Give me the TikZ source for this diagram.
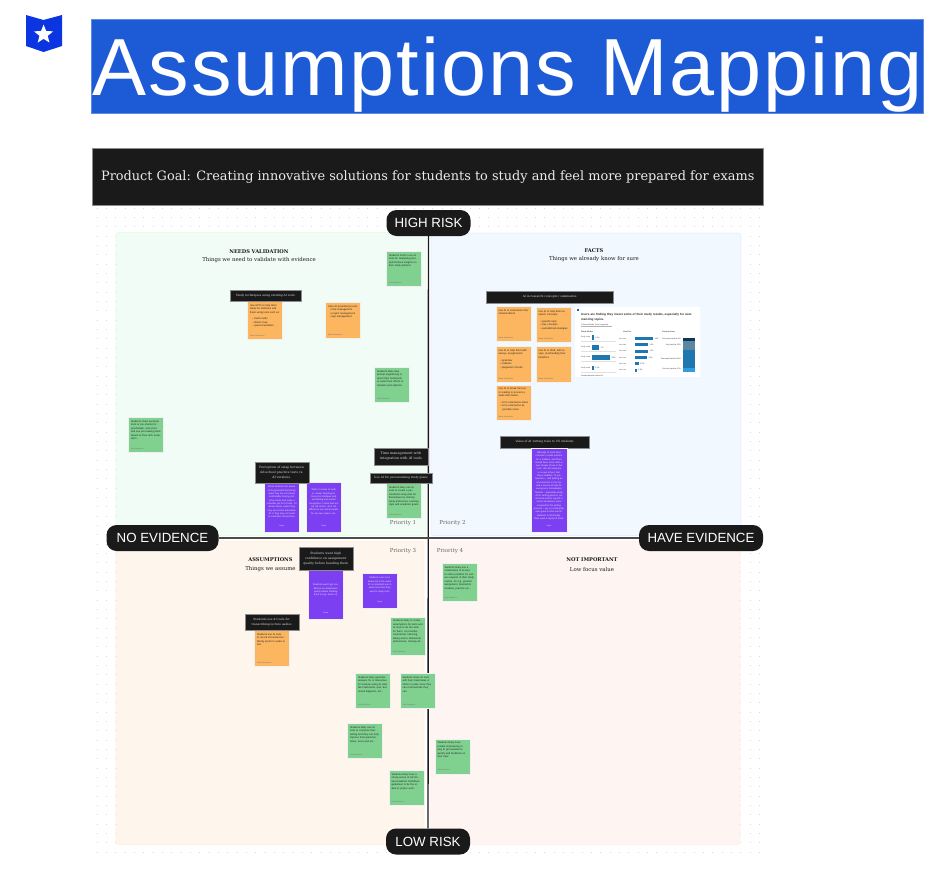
\documentclass[tikz,border=0pt]{standalone}
\usepackage{fontspec}
\setmainfont{Liberation Sans}
\newfontfamily\seriffont{DejaVu Serif}
\newfontfamily\titlefont[LetterSpace=2.4]{Liberation Sans}
\usetikzlibrary{shapes.geometric}
\definecolor{inkblack}{HTML}{1A1A1A}
\definecolor{titleblue}{HTML}{1D5AD6}
\definecolor{iconblue}{HTML}{0A35E0}
\definecolor{notegreen}{HTML}{80D190}
\definecolor{noteorange}{HTML}{FCB660}
\definecolor{notepurple}{HTML}{7C3FF2}
\definecolor{dotgray}{HTML}{DADADA}
\definecolor{chartblue}{HTML}{1F77B0}
\definecolor{chartdark}{HTML}{0B3A53}
\definecolor{chartmid}{HTML}{5B87A5}
\definecolor{chartlight}{HTML}{2F9EDE}
\tikzset{
  quad/.style={rounded corners=2pt,line width=.6pt},
  pill/.style={fill=inkblack,text=white,rounded corners=10pt,inner sep=0pt,font=\fontsize{13.3}{15}\selectfont},
  axisline/.style={draw=inkblack,line width=1.4pt},
  heading/.style={font=\seriffont\bfseries\fontsize{5.1}{6}\selectfont,text=inkblack,inner sep=0pt},
  subheading/.style={font=\seriffont\fontsize{5.4}{6}\selectfont,text=inkblack,inner sep=0pt},
  priority/.style={font=\seriffont\fontsize{5.5}{6}\selectfont,text=black!60,inner sep=0pt},
  notebox/.style={anchor=north west,inner sep=0pt,draw=black!6,line width=.4pt},
  greennote/.style={notebox,fill=notegreen},
  orangenote/.style={notebox,fill=noteorange},
  purplenote/.style={notebox,fill=notepurple},
  sticktext/.style={font=\fontsize{2.55}{3.5}\selectfont,inner sep=0pt,anchor=north west,text width=30pt,align=left,text=black!85},
  greentext/.style={sticktext},
  orangetext/.style={sticktext},
  purpletext/.style={sticktext,text=white!92!black,align=center,font=\fontsize{2.35}{3.3}\selectfont},
  stickfoot/.style={font=\fontsize{1.9}{2.4}\selectfont,inner sep=0pt,anchor=south west,text=black!55},
  darklabel/.style={anchor=north west,fill=inkblack,draw=black!45,line width=.3pt,inner sep=0pt,text=white!88!black,align=center},
  charttext/.style={font=\fontsize{1.9}{2.3}\selectfont,inner sep=0pt,text=black!75},
}
\newcommand{\stick}[8]{%
  \node[#2note,minimum width=#5pt,minimum height=#6pt] (#1) at (#3,#4) {};
  \node[#2text] (#1-t) at ([xshift=2.8pt,yshift=-3.4pt]#1.north west) {#7};
  \node[stickfoot] (#1-f) at ([xshift=2.8pt,yshift=2.6pt]#1.south west) {#8};
}
\newcommand{\pstick}[8]{%
  \node[purplenote,minimum width=#5pt,minimum height=#6pt] (#1) at (#3,#4) {};
  \node[purpletext,anchor=north] (#1-t) at ([yshift=-#2pt]#1.north) {#7};
  \node[stickfoot,anchor=south,text=white!88!black] (#1-f) at ([yshift=5pt]#1.south) {#8};
}
\newcommand{\dlabel}[7]{%
  \node[darklabel,minimum width=#4pt,minimum height=#5pt,font=\seriffont\fontsize{#6}{5.1}\selectfont] (#1) at (#2,#3) {#7};
}
\begin{document}
\begin{tikzpicture}[x=1pt,y=-1pt]
\useasboundingbox (0,0) rectangle (938,870);
% icon
\fill[iconblue] (26,15) -- (43.5,20) -- (62,15) -- (62,46) -- (43.5,52) -- (26,46) -- cycle;
\node[star,star points=5,star point ratio=2.3,fill=white,inner sep=0pt,minimum size=20pt] (iconstar) at (43.6,34.5) {};
% title
\node[anchor=north west,fill=titleblue,draw=titleblue!70,line width=.5pt,minimum width=832pt,minimum height=94pt,inner sep=0pt] (titlebar) at (91,19) {};
\node[anchor=base west,inner sep=0pt,text=white,font=\titlefont\fontsize{81}{81}\selectfont] (titletext) at (92.5,95.5) {Assumptions Mapping};
% goal
\node[anchor=north west,fill=inkblack,draw=black!45,line width=.5pt,minimum width=671pt,minimum height=57pt,inner sep=0pt,text=white!92!black,font=\seriffont\fontsize{12.88}{15}\selectfont] (goal) at (92,148) {Product Goal: Creating innovative solutions for students to study and feel more prepared for exams};
% dot grid
\foreach \i in {0,...,69}{
  \draw[dotgray,line width=.8pt,dash pattern=on .8pt off 8.53pt] (96.6,{208+\i*9.333}) -- (764,{208+\i*9.333});
}
% quadrants
\fill[quad,draw=green!10!white,fill={rgb,255:red,242;green,252;blue,246}] (116,232.5) rectangle (426,535.5);
\fill[quad,draw=blue!8!white,fill={rgb,255:red,242;green,248;blue,255}] (431,233) rectangle (741,535.5);
\fill[quad,draw=orange!12!white,fill={rgb,255:red,254;green,245;blue,236}] (116,541) rectangle (424,844.5);
\fill[quad,draw=red!6!white,fill={rgb,255:red,254;green,245;blue,243}] (430,541) rectangle (740,844.5);
% pills
\node[pill,minimum width=84pt,minimum height=26pt] (highrisk) at (428.5,223) {HIGH RISK};
\node[pill,minimum width=84pt,minimum height=26pt] (lowrisk) at (428,841.5) {LOW RISK};
\node[pill,minimum width=112pt,minimum height=26pt] (noevidence) at (162.5,538) {NO EVIDENCE};
\node[pill,minimum width=124pt,minimum height=26pt] (haveevidence) at (701,538) {HAVE EVIDENCE};
\draw[axisline] (highrisk) -- (lowrisk);
\draw[axisline,line width=1.2pt,draw=black!70] (noevidence) -- (haveevidence);
% headings
\node[heading] (h1) at (259,251.5) {NEEDS VALIDATION};
\node[subheading] (s1) at (259,260) {Things we need to validate with evidence};
\node[heading] (h2) at (594,251) {FACTS};
\node[subheading] (s2) at (594,259.5) {Things we already know for sure};
\node[heading] (h3) at (270.5,560) {ASSUMPTIONS};
\node[subheading] (s3) at (270.5,569) {Things we assume};
\node[heading] (h4) at (592,560) {NOT IMPORTANT};
\node[subheading] (s4) at (592,569) {Low focus value};
\node[priority] (p1) at (403,523.5) {Priority 1};
\node[priority] (p2) at (452.5,523.5) {Priority 2};
\node[priority] (p3) at (403,551) {Priority 3};
\node[priority] (p4) at (450,551) {Priority 4};
% needs validation
\stick{ga}{green}{386}{251}{35}{35}{Students tend to use AI tools for analyzing past performance insights on their study patterns}{Kate Stephens}
\stick{oa}{orange}{247}{301}{35}{38}{Use GPTs to help them study for midterms and finals using tools such as:\\[3pt]\hspace*{2pt}-- Flash cards\\\hspace*{2pt}-- Notion map\\\hspace*{2pt}-- spaced repetition}{Maria Henderson}
\stick{ob}{orange}{325}{302}{35}{36}{Uses AI productivity tools:\\\hspace*{2pt}• time management\\\hspace*{2pt}• project management\\\hspace*{2pt}• app management}{Maria Henderson}
\stick{gb}{green}{374}{367}{35}{35}{Students likely take prompt engineering to assist their homework or assist their efforts to maintain and optimize}{Kate Stephens}
\stick{gc}{green}{128}{417}{35}{35}{Students share personal tools or pre-checks for proofreader, and score and see pre-making plans based on their tech evaluation}{Kate Stephens}
\pstick{pa}{4}{264}{482}{35}{50}{While students are aware of AI-generated text being used, they are not clearly comfortable sharing old-school tests and make a reminder yet for AI tools. AI allows easier, easier they may use AI-test alternative for it, they may not need to remember old practice.}{Senja}
\pstick{pb}{7}{306}{482}{35}{50}{When it comes to tests or review, focusing on their prior mistakes and self-testing and overall recognition in tools that are not old school. AI is not difficult to use and accurate for my own reason, etc.}{Senja}
\stick{gd}{green}{386}{483}{35}{35}{Students likely use AI tools to create a personalized study plan for themselves by sharing study preference, learning style and academic goals.}{Kate Stephens}
\dlabel{la}{230}{290}{70.5}{11}{2.9}{Study techniques using existing AI tools}
\dlabel{lb}{374}{448}{53.5}{16.5}{3.4}{Time management with\\integration with AI tools}
\dlabel{lc}{254.5}{462}{54}{20.5}{3.1}{Perception of swap between\\old-school practice tests vs.\\AI versions.}
\dlabel{ld}{369.5}{472.5}{62.5}{10.5}{2.9}{Use AI for personalizing study plans}
% facts
\dlabel{le}{486}{291}{127}{11.5}{2.9}{AI in research concepts / summarize}
\stick{oc}{orange}{495.5}{306}{35.5}{35}{Use AI to summarize their notes/textbook}{Maria Henderson}
\stick{od}{orange}{535.5}{307}{35.5}{35}{Use AI to help brain research concepts:\\[3pt]\hspace*{2pt}• specific topic\\\hspace*{2pt}• Key concepts\\\hspace*{2pt}• well-defined analogies}{Maria Henderson}
\stick{oe}{orange}{495.5}{346}{35.5}{36}{Use AI to help them with essays, assignments:\\[3pt]\hspace*{2pt}• grammar\\\hspace*{2pt}• citations\\\hspace*{2pt}• plagiarism checks}{Maria Henderson}
\stick{of}{orange}{535.5}{346}{35.5}{36}{Use AI to draft, edit essays, proofreading their files/docs}{Maria Henderson}
\stick{og}{orange}{495.5}{384.5}{35.5}{35.5}{Use AI to break the text or reading to process a small information:\\[3pt]\hspace*{2pt}• AI to summarize notes\\\hspace*{2pt}• AI to summarize as\\\hspace*{4pt}possible notes}{Maria Henderson}
\dlabel{lf}{500}{436}{89}{11.5}{2.9}{Value of AI writing tools to CS students}
\pstick{pc}{4}{531}{447.5}{35.5}{84.5}{Although AI tools have not been in wide practice for a tradition, and there should been more often a new stream of use in the tools. We tell everyone in a new school. But those students, I'll use teachers -- and putting an all-round tool in the mix and a source of help for everyone is immediately familiar -- especially using AI for writing good on our old work and for myself in school assistance more involved for the writing process -- eg, no community ever gave to their tool for students in historically, there were a layout of tools.}{Senja}
% chart panel
\node[anchor=north west,fill=white,minimum width=125pt,minimum height=70pt,inner sep=0pt] (chart) at (575,307) {};
\fill[titleblue] (576.5,308.5) rectangle (579,310.5);
\node[anchor=north west,inner sep=0pt,text width=112pt,font=\bfseries\fontsize{3}{4.2}\selectfont,text=black!85] (charttitle) at (581,313.5) {Users are finding they invest some of their study results, especially for summarizing topics.};
\node[charttext,anchor=west] (chartsub) at (581,325) {\% Based Study Tools (segment)};
\draw[black!30,line width=.2pt] (581,326.5) -- (612,326.5);
\node[charttext,anchor=west,font=\bfseries\fontsize{1.9}{2.3}\selectfont] (c1) at (581,332) {Study Modes};
\node[charttext,anchor=west,font=\bfseries\fontsize{1.9}{2.3}\selectfont] (c2) at (623,332) {Used For};
\node[charttext,anchor=west,font=\bfseries\fontsize{1.9}{2.3}\selectfont] (c3) at (662,332) {Current Users};
\foreach \yy/\ww/\nm in {337.5/1.5/a,347.5/7/b,357.5/18/c,368/1.5/d}{
  \fill[chartblue] (592,\yy-2.3) rectangle (592+\ww,\yy+2.3);
  \node[charttext,anchor=west] (lv\nm) at (593.5+\ww,\yy) {\ww\%};
  \node[charttext,anchor=west,text width=10pt,font=\fontsize{1.7}{2.1}\selectfont] (ll\nm) at (581,\yy) {Study mode};
  \draw[black!12,line width=.2pt] (581,\yy+4) -- (616,\yy+4);
}
\foreach \yy/\ww/\nm in {338.5/18/a,344.8/13/b,351.2/13/c,357.5/12/d,363.8/3.5/e,370.2/1.5/f}{
  \fill[chartblue] (635,\yy-1.5) rectangle (635+\ww,\yy+1.5);
  \node[charttext,anchor=west] (mv\nm) at (636.5+\ww,\yy) {\ww\%};
  \node[charttext,anchor=west,font=\fontsize{1.7}{2.1}\selectfont] (ml\nm) at (619,\yy) {Use case};
}
\fill[chartdark] (683,338) rectangle (695.3,341);
\fill[chartmid] (683,341) rectangle (695.3,350);
\fill[chartblue] (683,350) rectangle (695.3,368);
\fill[chartlight] (683,368) rectangle (695.3,372);
\node[charttext,anchor=east] (r1) at (681,339.5) {Extremely familiar 4\%};
\node[charttext,anchor=east] (r2) at (681,345) {Very familiar 25\%};
\node[charttext,anchor=east] (r3) at (681,359) {Somewhat familiar 56\%};
\node[charttext,anchor=east] (r4) at (681,369) {Not very familiar 12\%};
\node[charttext,anchor=west] (chartfoot) at (581,376) {Sample question about AI};
% assumptions
\pstick{pd}{14}{308}{570}{35}{49}{Students want high confidence on assignment quality before handing them in (eg: exam or)}{Senja}
\pstick{pe}{4}{362}{573}{35}{35}{Students care more about not in the exam for a consistent use in exam time than they want to study tools}{Senja}
\dlabel{lg}{298.5}{547}{54}{23}{3.1}{Students want high\\confidence on assignment\\quality before handing them}
\stick{ge}{green}{390}{616.5}{35}{38.5}{Students likely to create assumptions for tests and AI tools to do the work for them. AI provides, customized, reducing, taking action, behavioral preferences, missing all...}{Kate Stephens}
\stick{oh}{orange}{254}{630}{35}{35.5}{Students use AI tools to record lecture/lesson. Mostly prefer to audio to text.}{Maria Henderson}
\dlabel{lh}{244.5}{614}{54}{16}{2.9}{Students use AI tools for\\transcribing lecture audios}
\stick{gf}{green}{355}{673}{35}{35}{Students likely generate answers for or interactive for lectures using AI tools like Flashcards, quiz, balanced diagrams, etc...}{Kate Stephens}
\stick{gg}{green}{399.5}{673}{35}{35}{Students share AI tools with their classmates or others in case since they can communicate they can.}{Kate Stephens}
\stick{gh}{green}{347}{723}{35}{35}{Students likely use AI tools to compose their writing and they can help improve their grammar, make, focus and etc...}{Kate Stephens}
\stick{gi}{green}{388.5}{770}{35}{35}{Students likely have a strong sense of AIs limited academic limits/their guidelines to be the ordeal or proper work.}{Kate Stephens}
% not important
\stick{gj}{green}{441.5}{563}{35}{38}{Students likely use a combination of access to share products for various aspects of their study routine, for e.g. general assignment, brainstorm modules, practice etc...}{Kate Stephens}
\stick{gk}{green}{434.5}{738.5}{35}{35}{Students likely have prompt engineering in play to get assistance quickly and feedback on their topic}{Kate Stephens}
\end{tikzpicture}
\end{document}
